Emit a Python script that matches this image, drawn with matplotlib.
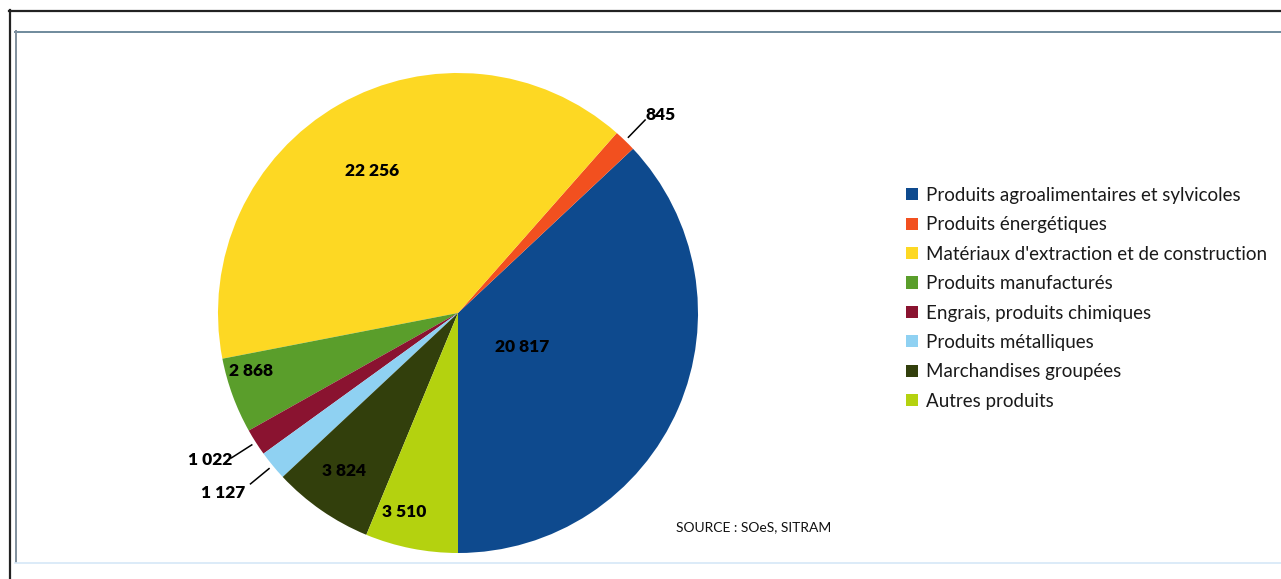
import matplotlib
matplotlib.use("Agg")
import matplotlib.pyplot as plt
from matplotlib.lines import Line2D
import numpy as np

categories = [
    "Produits agroalimentaires et sylvicoles",
    "Produits énergétiques",
    "Matériaux d'extraction et de construction",
    "Produits manufacturés",
    "Engrais, produits chimiques",
    "Produits métalliques",
    "Marchandises groupées",
    "Autres produits",
]
values = [20817, 845, 22256, 2868, 1022, 1127, 3824, 3510]
value_labels = ["20 817", "845", "22 256", "2 868", "1 022", "1 127", "3 824", "3 510"]
colors = ["#0e4a8e", "#f2501f", "#fdd823", "#5a9e2b", "#8a1330",
          "#8fd1f2", "#323f0c", "#b4d20f"]

# label placement: inside labels (x, y) in pie units; outside labels use leader lines
inside_pos = {0: (0.267, -0.14), 2: (-0.358, 0.59), 3: (-0.862, -0.242),
              6: (-0.475, -0.658), 7: (-0.225, -0.829)}
outside_pos = {1: ((0.78, 0.825), "left"), 4: ((-0.94, -0.612), "right"),
               5: ((-0.885, -0.75), "right")}

plt.rcParams["font.family"] = ["Lato", "DejaVu Sans"]

W, H = 1281, 579
fig = plt.figure(figsize=(W / 100, H / 100), dpi=100)
fig.patch.set_facecolor("white")

# frames
def hline(y, x0, x1, **kw):
    fig.add_artist(Line2D([x0 / W, x1 / W], [1 - y / H, 1 - y / H], transform=fig.transFigure, **kw))

def vline(x, y0, y1, **kw):
    fig.add_artist(Line2D([x / W, x / W], [1 - y0 / H, 1 - y1 / H], transform=fig.transFigure, **kw))

hline(10.5, 9, W, color="#222222", lw=1.6)
vline(9.5, 10, H, color="#222222", lw=1.6)
hline(31.5, 15, W, color="#6f8a9c", lw=1.4)
vline(15.5, 31, 562, color="#7f8e9c", lw=1.4)
hline(562.5, 15, W, color="#d6e8f7", lw=1.2)

cx, cy, r = 458, 313, 240
ax = fig.add_axes([(cx - r) / W, 1 - (cy + r) / H, 2 * r / W, 2 * r / H])
wedges, _ = ax.pie(values, colors=colors, startangle=-90, counterclock=True,
                   radius=1, wedgeprops=dict(linewidth=0))
ax.set_xlim(-1, 1)
ax.set_ylim(-1, 1)
ax.set_aspect("equal")
ax.axis("off")

label_kw = dict(fontsize=12.5, fontweight="heavy", color="black")
for i, (x, y) in inside_pos.items():
    ax.text(x, y, value_labels[i], ha="center", va="center", **label_kw)

for i, ((x, y), ha) in outside_pos.items():
    w = wedges[i]
    mid = np.deg2rad((w.theta1 + w.theta2) / 2)
    p0 = (1.02 * np.cos(mid), 1.02 * np.sin(mid))
    p1 = (1.12 * np.cos(mid), 1.12 * np.sin(mid))
    ax.plot([p0[0], p1[0]], [p0[1], p1[1]], color="black", lw=1.1, clip_on=False)
    ax.text(x, y, value_labels[i], ha=ha, va="center", clip_on=False, **label_kw)

leg = fig.legend(wedges, categories, loc="upper left",
                 bbox_to_anchor=(906 / W, 1 - 187 / H), frameon=False,
                 fontsize=13.5, handlelength=0.62, handleheight=0.62,
                 handletextpad=0.45, labelspacing=0.66, borderpad=0, borderaxespad=0)
for t in leg.get_texts():
    t.set_color("#1a1a1a")

fig.text(676 / W, 1 - 527 / H, "SOURCE : SOeS, SITRAM", ha="left", va="center",
         fontsize=10, family=["Lato", "DejaVu Sans"], color="#111111")

fig.savefig("out.png", dpi=100, facecolor="white")
